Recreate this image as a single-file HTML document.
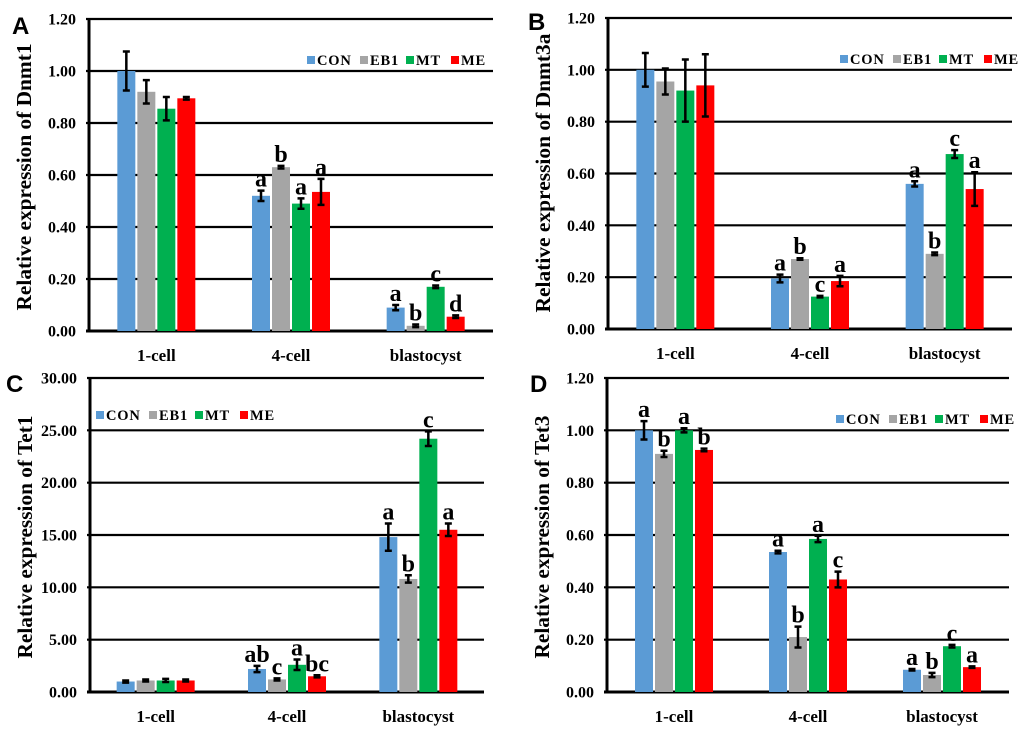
<!DOCTYPE html>
<html><head><meta charset="utf-8"><style>
body{margin:0;background:#fff}
svg text{font-family:"Liberation Serif",serif;font-weight:bold}
</style></head><body>
<svg id="s" width="1020" height="730" xmlns="http://www.w3.org/2000/svg"></svg>
<script>
const categories=["1-cell","4-cell","blastocyst"];
const seriesNames=["CON","EB1","MT","ME"];
const colors=["#5b9bd5","#a5a5a5","#00b050","#ff0000"];
// Panel A Dnmt1
const aCON=[1.00,0.52,0.09], aEB1=[0.92,0.63,0.02], aMT=[0.855,0.49,0.17], aME=[0.895,0.535,0.055];
const aErrCON=[0.075,0.02,0.01], aErrEB1=[0.045,0.005,0.005], aErrMT=[0.045,0.02,0.005], aErrME=[0.005,0.05,0.005];
const aLetters=[["","","",""],["a","b","a","a"],["a","b","c","d"]];
const aTicks=["0.00","0.20","0.40","0.60","0.80","1.00","1.20"];
// Panel B Dnmt3a
const bCON=[1.00,0.195,0.56], bEB1=[0.955,0.27,0.29], bMT=[0.92,0.125,0.675], bME=[0.94,0.185,0.54];
const bErrCON=[0.065,0.015,0.01], bErrEB1=[0.05,0.003,0.005], bErrMT=[0.12,0.003,0.015], bErrME=[0.12,0.02,0.065];
const bLetters=[["","","",""],["a","b","c","a"],["a","b","c","a"]];
const bTicks=["0.00","0.20","0.40","0.60","0.80","1.00","1.20"];
// Panel C Tet1
const cCON=[1.0,2.2,14.8], cEB1=[1.1,1.2,10.8], cMT=[1.1,2.6,24.2], cME=[1.1,1.5,15.5];
const cErrCON=[0.1,0.3,1.3], cErrEB1=[0.1,0.1,0.35], cErrMT=[0.15,0.5,0.7], cErrME=[0.1,0.1,0.6];
const cLetters=[["","","",""],["ab","c","a","bc"],["a","b","c","a"]];
const cTicks=["0.00","5.00","10.00","15.00","20.00","25.00","30.00"];
// Panel D Tet3
const dCON=[1.0,0.535,0.085], dEB1=[0.91,0.21,0.065], dMT=[1.0,0.585,0.175], dME=[0.925,0.43,0.095];
const dErrCON=[0.035,0.005,0.003], dErrEB1=[0.012,0.04,0.008], dErrMT=[0.008,0.012,0.005], dErrME=[0.005,0.03,0.003];
const dLetters=[["a","b","a","b"],["a","b","a","c"],["a","b","c","a"]];
const dTicks=["0.00","0.20","0.40","0.60","0.80","1.00","1.20"];

const S=document.getElementById('s');
const NS="http://www.w3.org/2000/svg";
function mk(tag,at,txt){const e=document.createElementNS(NS,tag);for(const k in at)e.setAttribute(k,at[k]);if(txt!==undefined)e.textContent=txt;S.appendChild(e);return e;}

function panel(p){
  const ticks=p.ticks.map(Number), ymax=ticks[ticks.length-1];
  const y=v=>p.yb-(v/ymax)*(p.yb-p.yt);
  const cw=(p.x1-p.x0)/3;
  const cx=i=>p.x0+(i+0.5)*cw;
  const bw=18, step=20;
  let t=mk('text',{x:p.lx,y:p.ly,'font-size':24,style:'font-family:"Liberation Sans",sans-serif;font-weight:bold'},p.letter);
  
  
  p.ticks.forEach((lab,k)=>{
    const yy=y(ticks[k]);
    let g=mk('line',{x1:p.x0-3,x2:p.x1,y1:yy,y2:yy,stroke:'#000','stroke-width':k==0?3:2.2});
    
    
    let tl=mk('text',{x:p.x0-13,y:yy+5.5,'text-anchor':'end','font-size':16},lab);
    
    
  });
  let ax=mk('line',{x1:p.x0,x2:p.x0,y1:p.yt,y2:p.yb+1,stroke:'#000','stroke-width':3});
  
  
  const my=p.tmy, tx=p.x0-58;
  let yt=mk('text',{x:tx,y:my,'text-anchor':'middle','font-size':21,textLength:p.tlen,lengthAdjust:'spacingAndGlyphs',transform:`rotate(-90 ${tx} ${my})`},p.title);
  
  
  categories.forEach((c,i)=>{
    let cl=mk('text',{x:cx(i),y:p.yb+30,'text-anchor':'middle','font-size':17},c);
    
    
    p.vals.forEach((arr,s)=>{
      const bx=cx(i)-2*step+s*step+1, v=arr[i], e=p.errs[s][i];
      let r=mk('rect',{x:bx,y:y(v),width:bw,height:p.yb-y(v),fill:colors[s]});
      
      
      const mx=bx+bw/2, top=y(v+e), bot=y(v-e);
      let eb=mk('path',{d:`M${mx} ${top}V${bot}M${mx-3.5} ${top}H${mx+3.5}M${mx-3.5} ${bot}H${mx+3.5}`,stroke:'#000','stroke-width':2.5,fill:'none'});
      
      
      const L=p.letters[i][s];
      if(L){let lt=mk('text',{x:mx,y:top-4,'text-anchor':'middle','font-size':24},L);
        
        }
    });
  });
  let lx=p.legx;
  seriesNames.forEach((n,s)=>{
    let b=mk('rect',{x:lx,y:p.legy-4,width:8,height:8,fill:colors[s]});
    
    
    let lt=mk('text',{x:lx+10,y:p.legy+5,'font-size':14.5,'letter-spacing':0.8},n);
    
    
    lx+=[53,46,45,0][s];
  });
}
panel({letter:'A',lx:12,ly:34,x0:89,x1:493,yt:19,yb:331,tmy:177,tlen:267,ticks:aTicks,title:'Relative expression of Dnmt1',vals:[aCON,aEB1,aMT,aME],errs:[aErrCON,aErrEB1,aErrMT,aErrME],letters:aLetters,legx:307,legy:60});
panel({letter:'B',lx:528,ly:30,x0:608,x1:1012,yt:18,yb:329,tmy:173,tlen:279,ticks:bTicks,title:'Relative expression of Dnmt3a',vals:[bCON,bEB1,bMT,bME],errs:[bErrCON,bErrEB1,bErrMT,bErrME],letters:bLetters,legx:840,legy:59});
panel({letter:'C',lx:6,ly:392,x0:90,x1:484,yt:378,yb:692,tmy:537,tlen:243,ticks:cTicks,title:'Relative expression of Tet1',vals:[cCON,cEB1,cMT,cME],errs:[cErrCON,cErrEB1,cErrMT,cErrME],letters:cLetters,legx:96,legy:415});
panel({letter:'D',lx:530,ly:392,x0:607,x1:1009,yt:378,yb:692,tmy:537,tlen:243,ticks:dTicks,title:'Relative expression of Tet3',vals:[dCON,dEB1,dMT,dME],errs:[dErrCON,dErrEB1,dErrMT,dErrME],letters:dLetters,legx:836,legy:419});
</script>
</body></html>
